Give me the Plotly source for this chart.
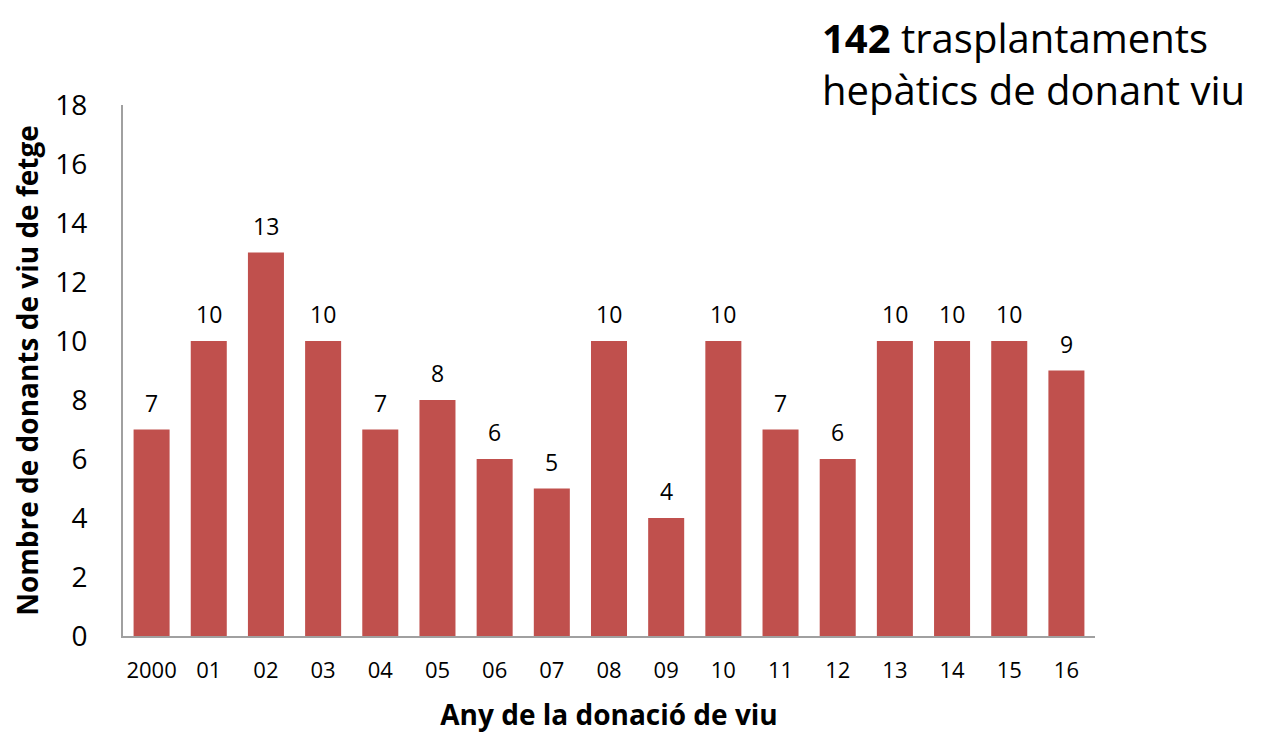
import plotly.graph_objects as go

years = ["2000", "01", "02", "03", "04", "05", "06", "07", "08", "09",
         "10", "11", "12", "13", "14", "15", "16"]
donors = [7, 10, 13, 10, 7, 8, 6, 5, 10, 4, 10, 7, 6, 10, 10, 10, 9]
y_ticks = [0, 2, 4, 6, 8, 10, 12, 14, 16, 18]

FONT = "Open Sans"

fig = go.Figure(go.Bar(
    x=years, y=donors,
    marker=dict(color="#C0504D", line=dict(width=0)),
    cliponaxis=False,
))

# value labels above each bar (category index position on the category axis)
value_labels = [
    dict(x=i, y=v, xref="x", yref="y", text=str(v), showarrow=False,
         yanchor="bottom", yshift=9,
         font=dict(family=FONT, size=23, color="black"))
    for i, v in enumerate(donors)
]

title_note = dict(
    text="<b>142</b> trasplantaments<br>hepàtics de donant viu",
    xref="paper", yref="paper", x=0.717, y=1.078,
    xanchor="left", yanchor="middle", align="left", showarrow=False,
    font=dict(family=FONT, size=40, color="black"),
)

fig.update_layout(
    width=1262, height=726,
    margin=dict(l=115, r=175, t=97, b=98),
    paper_bgcolor="white", plot_bgcolor="white",
    bargap=0.37,
    showlegend=False,
    font=dict(family=FONT, color="black"),
    xaxis=dict(
        type="category", categoryorder="array", categoryarray=years,
        range=[-0.5, len(years) - 0.5], automargin=False,
        showline=True, linecolor="#A0A0A0", linewidth=2,
        showgrid=False, ticks="", ticklabelstandoff=14,
        tickfont=dict(family=FONT, size=22, color="black"),
        title=dict(text="<b>Any de la donació de viu</b>",
                   font=dict(family=FONT, size=28, color="black"), standoff=22),
    ),
    yaxis=dict(
        range=[0, 18], tickvals=y_ticks, automargin=False,
        showline=True, linecolor="#A0A0A0", linewidth=2,
        showgrid=False, ticks="", zeroline=False, ticklabelstandoff=28,
        tickfont=dict(family=FONT, size=28, color="black"),
        title=dict(text="<b>Nombre de donants de viu de fetge</b>",
                   font=dict(family=FONT, size=28, color="black"), standoff=12),
    ),
    annotations=value_labels + [title_note],
)

fig.write_html("out.html")
